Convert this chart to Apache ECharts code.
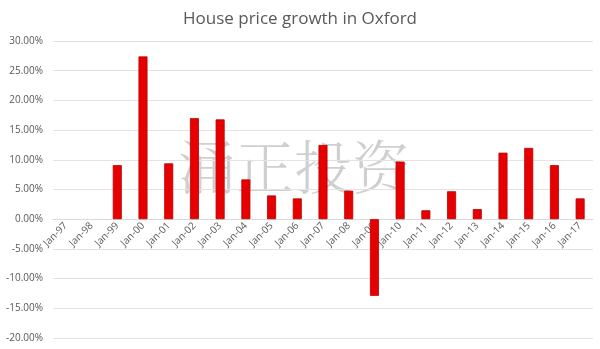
<!DOCTYPE html>
<html><head><meta charset="utf-8">
<script src="https://cdn.jsdelivr.net/npm/echarts@6/dist/echarts.min.js"></script>
<style>html,body{margin:0;padding:0;background:#fff}#c{width:600px;height:349px}</style>
</head><body><div id="c"></div>
<script>
const categories = ['Jan-97','Jan-98','Jan-99','Jan-00','Jan-01','Jan-02','Jan-03','Jan-04','Jan-05','Jan-06','Jan-07','Jan-08','Jan-09','Jan-10','Jan-11','Jan-12','Jan-13','Jan-14','Jan-15','Jan-16','Jan-17'];
const growth = [null, null, 9.1, 27.4, 9.4, 17.0, 16.8, 6.7, 4.0, 3.5, 12.5, 4.8, -12.9, 9.7, 1.5, 4.7, 1.7, 11.2, 12.0, 9.1, 3.5];
const titleText = 'House price growth in Oxford';
const watermark = '涌正投资';
const yMin = -20, yMax = 30;

const chart = echarts.init(document.getElementById('c'));
const gridTop = 41, gridBottom = 11, H = 349;
const plotH = H - gridTop - gridBottom;
const zeroOffset = -plotH * (0 - yMin) / (yMax - yMin);
chart.setOption({
  animation: false,
  backgroundColor: '#fff',
  title: {text: titleText, left: 'center', top: 6,
    textStyle: {fontFamily: 'Open Sans', fontSize: 17, fontWeight: 'normal', color: '#595959'}},
  grid: {left: 53, right: 7, top: gridTop, bottom: gridBottom, containLabel: false},
  graphic: [{type: 'text', left: 178, top: 138, z: -1, silent: true,
    style: {text: watermark, font: '300 58px "Noto Serif CJK SC", "Noto Sans CJK SC"', fill: 'rgba(160,160,160,0.5)', letterSpacing: 8}}],
  xAxis: {type: 'category', data: categories, position: 'bottom', offset: zeroOffset,
    axisLine: {onZero: false, lineStyle: {color: '#d9d9d9'}},
    axisTick: {show: false},
    axisLabel: {rotate: 45, interval: 0, fontFamily: 'Open Sans', fontSize: 10, color: '#595959', margin: 5}},
  yAxis: {type: 'value', min: yMin, max: yMax, interval: 5,
    axisLine: {show: false}, axisTick: {show: false},
    splitLine: {lineStyle: {color: '#e3e3e3'}},
    axisLabel: {formatter: v => v.toFixed(2) + '%', fontFamily: 'Open Sans', fontSize: 10, color: '#595959', margin: 10}},
  series: [{type: 'bar', data: growth, barWidth: 9, z: 5,
    itemStyle: {color: '#e60000', borderColor: '#b80000', borderWidth: 0.8}}]
});
</script></body></html>
